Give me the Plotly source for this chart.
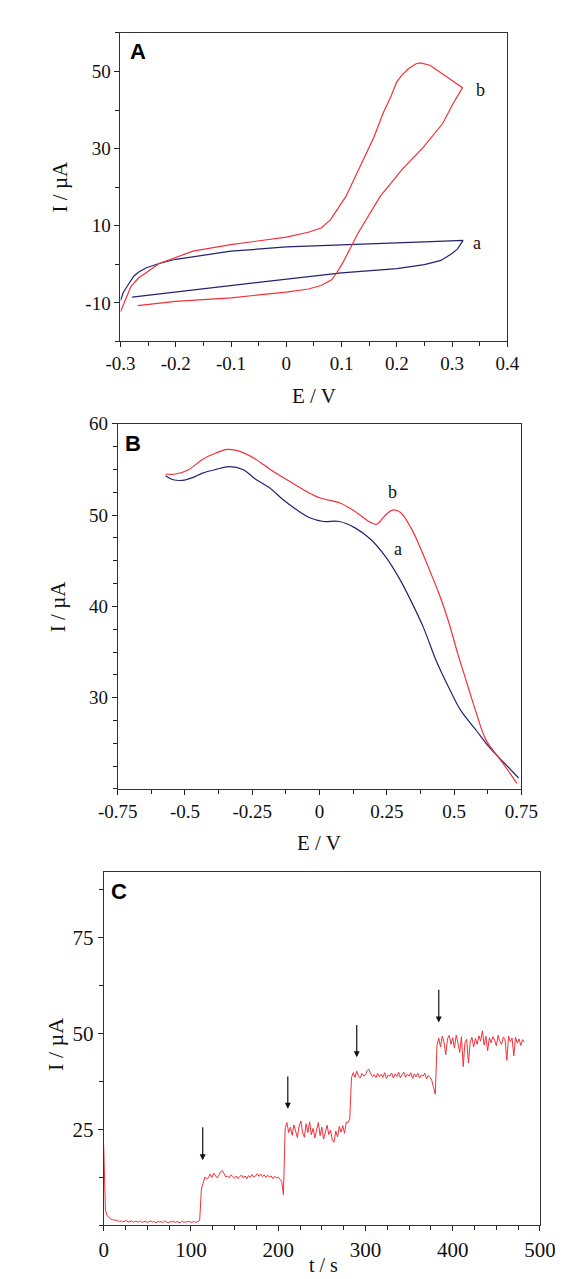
import plotly.graph_objects as go

# ---------------- Panel A (CV) ----------------
a_cv_E = [-0.279, -0.2, -0.1, 0.0, 0.1, 0.2, 0.25, 0.28, 0.30, 0.31, 0.32,
          0.25, 0.15, 0.05, 0.0, -0.1, -0.2, -0.23, -0.253, -0.267, -0.276, -0.287, -0.295, -0.30]
a_cv_I = [-8.5, -7.2, -5.5, -3.8, -2.2, -1.1, -0.1, 1.0, 2.8, 4.0, 6.2,
          5.8, 5.3, 4.8, 4.5, 3.4, 1.3, 0.2, -0.9, -2.0, -3.1, -5.5, -7.3, -9.4]

b_cv_E = [-0.269, -0.2, -0.1, 0.0, 0.04, 0.063, 0.082, 0.091, 0.102, 0.130, 0.170, 0.209, 0.249,
          0.283, 0.302, 0.319, 0.260, 0.243, 0.235, 0.221, 0.209, 0.200, 0.189, 0.175, 0.159,
          0.142, 0.125, 0.108, 0.096, 0.080, 0.063, 0.040, 0.0, -0.1, -0.169, -0.197, -0.23,
          -0.253, -0.267, -0.281, -0.29, -0.30]
b_cv_I = [-10.7, -9.6, -8.7, -7.2, -6.4, -5.5, -4.0, -2.25, 0.3, 8.1, 17.6, 24.5, 30.5,
          36.5, 41.7, 45.8, 51.6, 52.2, 52.0, 50.7, 49.0, 47.3, 43.4, 39.1, 33.1,
          27.9, 22.7, 17.6, 15.0, 11.5, 9.4, 8.3, 7.05, 5.1, 3.4, 1.9, 0.2,
          -2.1, -3.5, -5.7, -9.0, -12.3]

# ---------------- Panel B (DPV) ----------------
a_dpv_E = [-0.572, -0.547, -0.51, -0.472, -0.435, -0.385, -0.335, -0.285, -0.236, -0.186, -0.136,
           -0.086, -0.036, 0.014, 0.074, 0.132, 0.19, 0.248, 0.294, 0.34, 0.386, 0.433, 0.479,
           0.525, 0.583, 0.63, 0.688, 0.74]
a_dpv_I = [54.3, 53.9, 53.8, 54.1, 54.6, 55.0, 55.3, 55.0, 53.9, 53.0, 51.7,
           50.6, 49.7, 49.3, 49.3, 48.6, 47.35, 45.35, 43.2, 40.6, 37.7, 34.1, 31.2,
           28.6, 26.4, 24.6, 22.8, 21.2]

b_dpv_E = [-0.572, -0.535, -0.485, -0.435, -0.385, -0.342, -0.298, -0.236, -0.173, -0.111, -0.049,
           0.0, 0.074, 0.132, 0.19, 0.213, 0.242, 0.271, 0.3, 0.34, 0.375, 0.41, 0.444, 0.479,
           0.514, 0.549, 0.583, 0.618, 0.664, 0.699, 0.734]
b_dpv_I = [54.5, 54.5, 55.0, 56.1, 56.8, 57.2, 57.0, 56.1, 54.8, 53.7, 52.6,
           51.9, 51.35, 50.4, 49.2, 49.0, 49.9, 50.55, 50.3, 48.6, 46.4, 43.9, 41.4, 38.4,
           34.8, 31.5, 28.3, 25.4, 23.5, 22.1, 20.6]

# ---------------- Panel C (amperometry) ----------------
c_sample_interval = 2  # s between recorded points
c_I = [
    21.0, 4.0, 2.5, 2.0, 1.7, 1.5, 1.4, 1.2, 1.3, 1.0,       # t 0-18
    1.2, 0.9, 1.1, 1.3, 0.9, 1.0, 1.2, 0.8, 1.1, 1.0,        # t 20-38
    0.9, 1.2, 0.8, 1.0, 1.1, 0.8, 0.9, 1.2, 0.9, 1.0,        # t 40-58
    0.7, 1.1, 0.9, 1.0, 0.8, 1.2, 0.9, 0.7, 1.0, 0.9,        # t 60-78
    1.1, 0.8, 1.0, 0.9, 0.7, 1.1, 0.8, 1.0, 0.9, 1.1,        # t 80-98
    0.8, 0.9, 1.0, 0.8, 1.0, 1.3, 9.5, 11.2, 12.6, 12.2,     # t 100-118
    12.4, 13.4, 12.5, 13.6, 12.8, 12.4, 13.1, 14.0, 14.3, 13.2,  # t 120-138
    12.6, 12.9, 12.4, 13.2, 12.7, 12.3, 12.9, 12.2, 12.8, 13.1,  # t 140-158
    12.4, 12.9, 12.2, 13.0, 12.5, 13.3, 12.6, 12.9, 13.5, 12.8,  # t 160-178
    13.4, 12.7, 13.2, 12.5, 13.1, 12.6, 12.9, 12.2, 12.8, 12.4,  # t 180-198
    12.6, 12.0, 11.5, 8.0, 25.5, 26.8, 24.2, 25.6, 23.5, 26.2,   # t 200-218
    24.8, 22.9, 25.9, 27.2, 24.1, 23.0, 26.5, 24.2, 27.0, 23.6,  # t 220-238
    25.3, 22.8, 24.9, 26.8, 23.4, 25.6, 22.5, 24.4, 26.1, 23.7,  # t 240-258
    24.8, 22.2, 21.7, 24.6, 23.1, 25.8, 24.3, 26.0, 24.0, 26.9,  # t 260-278
    26.8, 27.8, 38.5, 39.8, 38.6, 40.2, 39.0, 38.4, 39.6, 38.9,  # t 280-298
    39.2, 40.4, 40.7, 39.5, 38.8, 39.3, 38.5, 39.6, 38.7, 39.4,  # t 300-318
    38.6, 39.8, 38.3, 39.2, 38.9, 39.7, 38.4, 39.5, 38.8, 39.9,  # t 320-338
    38.5, 39.3, 39.9, 38.6, 39.4, 38.9, 39.8, 38.3, 39.5, 38.7,  # t 340-358
    39.6, 38.4, 39.2, 38.9, 39.7, 38.2, 39.1, 38.6, 37.8, 36.0,  # t 360-378
    34.2, 47.0, 48.8, 46.5, 49.3, 47.8, 44.5, 48.6, 49.5, 47.2,  # t 380-398
    48.9, 46.2, 49.6, 47.5, 45.1, 49.2, 41.4, 47.6, 48.5, 42.3,  # t 400-418
    47.8, 49.0, 46.5, 48.7, 47.2, 49.4, 48.1, 50.7, 47.0, 49.3,  # t 420-438
    45.5, 48.9, 47.6, 49.2, 48.3, 46.8, 49.5, 48.0, 47.2, 49.1,  # t 440-458
    48.4, 43.0, 49.3, 47.9, 48.8, 44.2, 49.0, 47.5, 48.6, 46.9,  # t 460-478
    48.4, 47.8,                                                  # t 480-482
]
c_t = [k * c_sample_interval for k in range(len(c_I))]

# injection arrows: time, tail current, tip current
arrow_t = [113.5, 211, 290, 384]
arrow_tail = [26.0, 39.2, 52.6, 61.8]
arrow_tip = [17.0, 30.4, 43.8, 52.9]

# tick labels
a_xticks = [-0.3, -0.2, -0.1, 0, 0.1, 0.2, 0.3, 0.4]
a_xtext = ["-0.3", "-0.2", "-0.1", "0", "0.1", "0.2", "0.3", "0.4"]
a_yticks = [-10, 10, 30, 50]
b_xticks = [-0.75, -0.5, -0.25, 0, 0.25, 0.5, 0.75]
b_xtext = ["-0.75", "-0.5", "-0.25", "0", "0.25", "0.5", "0.75"]
b_yticks = [30, 40, 50, 60]
c_xticks = [0, 100, 200, 300, 400, 500]
c_yticks = [25, 50, 75]

RED = "#f2303a"
BLUE = "#23236f"
SERIF = "Liberation Serif, Times New Roman, serif"
SANS = "Liberation Sans, Arial, sans-serif"
W, H = 563, 1279

fig = go.Figure()
fig.add_trace(go.Scatter(x=a_cv_E, y=a_cv_I, mode="lines", line=dict(color=BLUE, width=1.2),
                         xaxis="x", yaxis="y", showlegend=False))
fig.add_trace(go.Scatter(x=b_cv_E, y=b_cv_I, mode="lines", line=dict(color=RED, width=1.2),
                         xaxis="x", yaxis="y", showlegend=False))
fig.add_trace(go.Scatter(x=a_dpv_E, y=a_dpv_I, mode="lines", line=dict(color=BLUE, width=1.2, shape="spline"),
                         xaxis="x2", yaxis="y2", showlegend=False))
fig.add_trace(go.Scatter(x=b_dpv_E, y=b_dpv_I, mode="lines", line=dict(color=RED, width=1.2, shape="spline"),
                         xaxis="x2", yaxis="y2", showlegend=False))
fig.add_trace(go.Scatter(x=c_t, y=c_I, mode="lines", line=dict(color=RED, width=1),
                         xaxis="x3", yaxis="y3", showlegend=False))


def dom_x(left, right):
    return [left / W, right / W]


def dom_y(top, bottom):
    return [1 - bottom / H, 1 - top / H]


def axis(domain, rng, tickvals, ticktext, minor_dtick, minor_tick0, anchor, size):
    return dict(domain=domain, range=rng, tickmode="array", tickvals=tickvals, ticktext=ticktext,
                ticks="outside", ticklen=5, tickwidth=1, tickcolor="#222",
                minor=dict(dtick=minor_dtick, tick0=minor_tick0, ticks="outside", ticklen=4,
                           tickcolor="#222", showgrid=False),
                showline=True, linecolor="#333", linewidth=1, mirror=True,
                showgrid=False, zeroline=False, anchor=anchor,
                tickfont=dict(family=SERIF, size=size, color="#111"))


layout = dict(
    width=W, height=H, margin=dict(l=0, r=0, t=0, b=0),
    paper_bgcolor="white", plot_bgcolor="white", showlegend=False,
    xaxis=axis(dom_x(99, 513), [-0.3, 0.4], a_xticks, a_xtext, 0.05, -0.3, "y", 19),
    yaxis=axis(dom_y(15, 326), [-20, 60], a_yticks, [str(v) for v in a_yticks], 10, -20, "x", 19),
    xaxis2=axis(dom_x(96, 528), [-0.75, 0.75], b_xticks, b_xtext, 0.125, -0.75, "y2", 19),
    yaxis2=axis(dom_y(409, 777), [20, 60], b_yticks, [str(v) for v in b_yticks], 2.5, 20, "x2", 19),
    xaxis3=axis(dom_x(81, 548), [0, 500], c_xticks, [str(v) for v in c_xticks], 25, 0, "y3", 21),
    yaxis3=axis(dom_y(861, 1217), [0, 92], c_yticks, [str(v) for v in c_yticks], 12.5, 0, "x3", 21),
)
fig.update_layout(**layout)

ann = []


def ptext(text, x, y, size, family=SERIF, angle=0, bold=False):
    t = f"<b>{text}</b>" if bold else text
    ann.append(dict(text=t, x=x / W, y=1 - y / H, xref="paper", yref="paper", showarrow=False,
                    xanchor="center", yanchor="middle", textangle=angle,
                    font=dict(family=family, size=size, color="#111")))


# axis titles
ptext("E / V", 306, 381, 21)
ptext("I / µA", 34, 170, 21, angle=-90)
ptext("E / V", 312, 832, 21)
ptext("I / µA", 33, 593, 21, angle=-90)
ptext("t / s", 316, 1257, 20)
ptext("I / µA", 30, 1035, 22, angle=-90)

# panel letters (data coordinates)
ann.append(dict(text="<b>A</b>", x=-0.268, y=55.2, xref="x", yref="y", showarrow=False,
                font=dict(family=SANS, size=22, color="#000")))
ann.append(dict(text="<b>B</b>", x=-0.694, y=57.8, xref="x2", yref="y2", showarrow=False,
                font=dict(family=SANS, size=22, color="#000")))
ann.append(dict(text="<b>C</b>", x=18, y=87.0, xref="x3", yref="y3", showarrow=False,
                font=dict(family=SANS, size=22, color="#000")))

# curve labels
for txt, x, y, xr, yr in [("b", 0.339, 45.3, "x", "y"), ("a", 0.335, 5.5, "x", "y"),
                          ("b", 0.271, 52.55, "x2", "y2"), ("a", 0.29, 46.3, "x2", "y2")]:
    ann.append(dict(text=txt, x=x, y=y, xref=xr, yref=yr, showarrow=False, xanchor="left" if xr == "x" else "center",
                    font=dict(family=SERIF, size=18, color="#111")))

# injection arrows
for t, tail, tip in zip(arrow_t, arrow_tail, arrow_tip):
    ann.append(dict(x=t, y=tip, ax=t, ay=tail, xref="x3", yref="y3", axref="x3", ayref="y3",
                    showarrow=True, arrowhead=2, arrowsize=1, arrowwidth=1.2, arrowcolor="#111", text=""))

fig.update_layout(annotations=ann)
fig.write_html("out.html")
